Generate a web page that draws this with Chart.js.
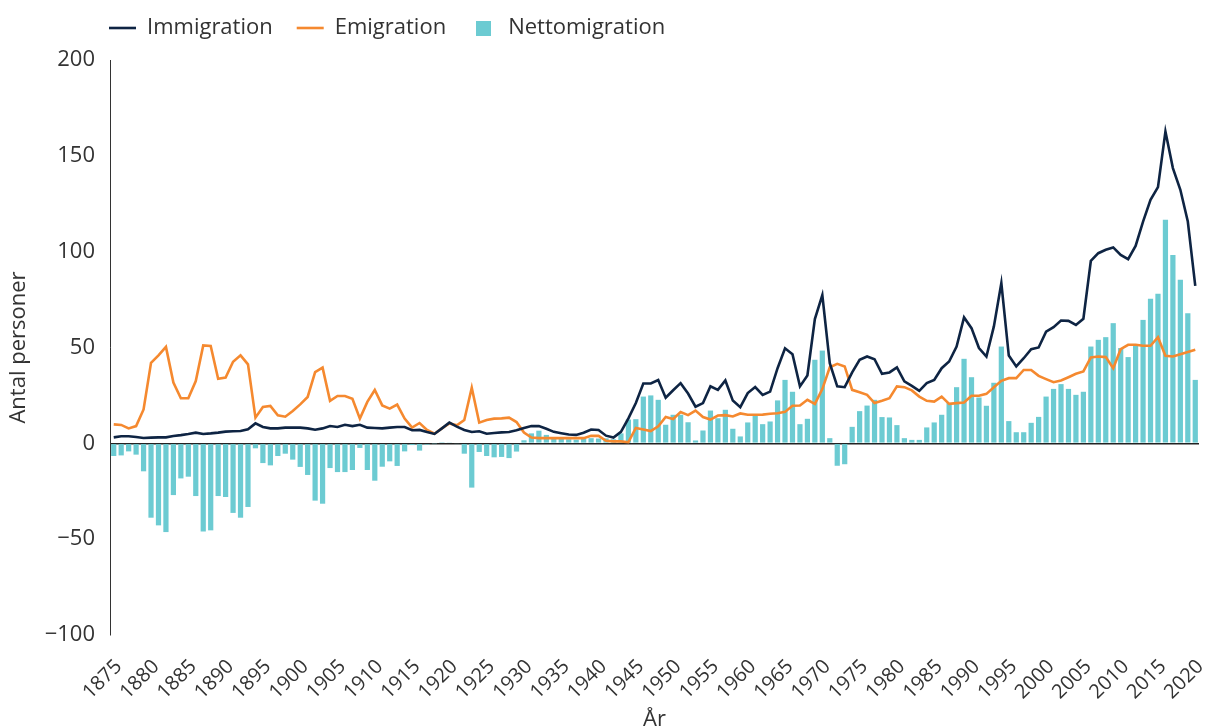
<!DOCTYPE html>
<html>
<head>
<meta charset="utf-8">
<script src="https://cdn.jsdelivr.net/npm/chart.js@4.4.1/dist/chart.umd.min.js"></script>
<style>
  body { margin: 0; background: #fff; }
</style>
</head>
<body>
<canvas id="migrationChart" width="1209" height="727"></canvas>
<script>
// values in thousands of persons, one per year from startYear
const startYear = 1875;

const immigration = [
  3.1, 3.7, 3.7, 3.3, 2.8, 3.0, 3.1, 3.1, 3.8, 4.3,
  4.9, 5.6, 4.9, 5.2, 5.6, 6.1, 6.3, 6.4, 7.3, 10.4,
  8.5, 7.8, 7.8, 8.2, 8.2, 8.2, 7.8, 7.1, 7.8, 9.0,
  8.5, 9.7, 9.0, 9.7, 8.2, 8.0, 7.8, 8.2, 8.5, 8.5,
  6.8, 7.0, 5.9, 4.9, 7.8, 10.8, 8.7, 7.0, 5.9, 6.3,
  5.0, 5.4, 5.7, 5.9, 6.8, 8.0, 9.0, 9.0, 7.6, 6.0,
  5.3, 4.6, 4.4, 5.5, 7.2, 7.0, 4.0, 3.0, 6.0, 13.0,
  21.0, 31.2, 31.2, 33.0, 23.8, 27.7, 31.4, 26.0, 19.1, 21.0,
  29.8, 27.9, 32.8, 22.3, 18.9, 26.2, 29.4, 25.3, 27.0, 39.2,
  49.6, 46.5, 29.7, 35.4, 64.8, 77.3, 41.8, 29.7, 29.3, 37.0,
  43.6, 45.3, 43.9, 36.3, 37.0, 39.6, 32.3, 30.0, 27.4, 31.4,
  33.1, 39.2, 42.7, 50.5, 65.7, 60.1, 49.7, 45.3, 61.0, 83.6,
  45.8, 40.1, 44.4, 49.1, 50.0, 58.3, 60.6, 64.1, 63.9, 61.8,
  65.0, 95.2, 99.2, 101.0, 102.2, 98.3, 96.1, 103.0, 115.7, 127.0,
  133.7, 162.7, 143.6, 132.3, 115.7, 82.2
];

const emigration = [
  9.9, 9.6, 7.8, 9.0, 17.7, 42.0, 45.9, 50.3, 31.7, 23.5,
  23.5, 32.5, 51.1, 50.8, 33.7, 34.3, 42.6, 45.9, 41.2, 13.4,
  19.0, 19.5, 14.6, 13.9, 16.9, 20.3, 24.2, 37.2, 39.5, 22.2,
  24.7, 24.7, 23.3, 12.9, 21.6, 27.8, 19.8, 18.1, 20.2, 12.9,
  8.2, 10.6, 7.0, 5.0, 7.8, 10.4, 9.4, 12.2, 29.0, 10.8,
  12.2, 12.9, 13.0, 13.4, 11.1, 5.6, 3.0, 2.7, 2.7, 2.7,
  2.7, 2.7, 2.7, 2.7, 3.9, 3.9, 1.3, 1.0, 1.0, 0.6,
  8.0, 7.2, 6.4, 8.9, 13.8, 12.7, 16.3, 14.7, 17.1, 13.7,
  12.4, 14.5, 14.7, 14.0, 15.6, 14.9, 14.9, 15.0, 15.4, 15.7,
  16.4, 19.6, 19.7, 22.7, 20.6, 28.3, 39.7, 41.5, 40.1, 27.9,
  26.7, 25.3, 21.0, 22.2, 23.6, 29.7, 29.3, 27.6, 24.4, 22.2,
  21.8, 24.4, 20.6, 21.0, 21.3, 24.8, 24.8, 25.8, 29.3, 32.6,
  34.0, 34.0, 38.3, 38.3, 35.2, 33.5, 31.9, 32.8, 34.5, 36.3,
  37.5, 44.8, 45.3, 45.0, 39.2, 49.1, 51.4, 51.4, 50.9, 50.9,
  55.4, 45.7, 45.3, 46.5, 47.6, 48.8
];

const netMigration = [
  -6.6, -6.3, -4.2, -5.9, -14.6, -38.8, -42.8, -46.3, -27.0, -18.3,
  -17.4, -27.5, -46.0, -45.4, -27.5, -28.0, -36.3, -38.8, -33.2, -2.6,
  -10.3, -11.5, -6.6, -5.4, -8.5, -12.3, -16.5, -29.9, -31.5, -12.9,
  -15.0, -15.0, -13.9, -2.4, -13.9, -19.5, -12.2, -9.4, -11.8, -4.2,
  -0.9, -3.8, -0.7, -0.2, 0.2, 0.3, -0.3, -5.4, -23.1, -4.5,
  -6.6, -7.3, -7.1, -7.7, -4.3, 1.6, 5.2, 6.6, 4.4, 2.8,
  2.4, 2.1, 1.9, 2.3, 2.7, 2.5, 2.6, 2.1, 5.2, 12.4,
  12.6, 24.4, 25.0, 22.7, 9.7, 14.9, 14.9, 11.0, 1.5, 6.7,
  17.1, 13.1, 17.5, 7.6, 3.6, 10.9, 14.9, 10.0, 11.4, 22.4,
  33.1, 26.9, 10.0, 12.8, 43.6, 48.4, 2.7, -11.7, -10.9, 8.6,
  16.8, 19.7, 22.7, 13.7, 13.5, 9.5, 2.7, 1.8, 1.8, 8.3,
  10.9, 14.9, 21.0, 29.3, 44.1, 34.5, 23.9, 19.6, 31.6, 50.5,
  11.6, 5.8, 5.8, 10.7, 13.8, 24.4, 28.4, 30.9, 28.4, 25.3,
  26.9, 50.5, 54.0, 55.4, 62.7, 49.7, 45.0, 50.9, 64.4, 75.4,
  78.0, 116.6, 98.3, 85.3, 67.9, 33.1
];

const yTickValues = [-100, -50, 0, 50, 100, 150, 200];
const seriesNames = ['Immigration', 'Emigration', 'Nettomigration'];

const years = immigration.map((v, i) => String(startYear + i));

const NAVY = '#0e2443';
const ORANGE = '#f5892f';
const TEAL = '#6ccbd2';
const TEXT = '#333333';
const FONT = "'Open Sans', sans-serif";

// small square for the bar series in the legend
const squareIcon = document.createElement('canvas');
squareIcon.width = 15;
squareIcon.height = 15;
const sq = squareIcon.getContext('2d');
sq.fillStyle = TEAL;
sq.fillRect(0, 0, 15, 15);

// legend sits left aligned over the plot, not at the canvas edge
const legendPlacement = {
  id: 'legendPlacement',
  afterLayout(chart) {
    chart.legend.left = 85;
    chart.legend.top = -7;
  }
};

const ctx = document.getElementById('migrationChart').getContext('2d');
const migrationChart = new Chart(ctx, {
  type: 'bar',
  data: {
    labels: years,
    datasets: [{
      type: 'line',
      label: seriesNames[0],
      data: immigration,
      borderColor: NAVY,
      backgroundColor: NAVY,
      borderWidth: 2.6,
      pointRadius: 0,
      pointStyle: 'line',
      tension: 0,
      order: 0
    }, {
      type: 'line',
      label: seriesNames[1],
      data: emigration,
      borderColor: ORANGE,
      backgroundColor: ORANGE,
      borderWidth: 2.6,
      pointRadius: 0,
      pointStyle: 'line',
      tension: 0,
      order: 1
    }, {
      type: 'bar',
      label: seriesNames[2],
      data: netMigration,
      backgroundColor: TEAL,
      borderWidth: 0,
      pointStyle: squareIcon,
      barPercentage: 0.7,
      categoryPercentage: 1.0,
      order: 2
    }]
  },
  options: {
    responsive: false,
    animation: false,
    layout: {
      padding: { top: 4, right: 10, left: 0, bottom: 0 }
    },
    plugins: {
      legend: {
        position: 'top',
        align: 'start',
        labels: {
          usePointStyle: true,
          pointStyleWidth: 27,
          padding: 24,
          color: TEXT,
          font: { family: FONT, size: 22 }
        }
      },
      tooltip: { enabled: false }
    },
    scales: {
      x: {
        grid: { display: false },
        border: { display: false },
        ticks: {
          autoSkip: false,
          maxRotation: 45,
          minRotation: 45,
          padding: 12,
          labelOffset: 5,
          color: TEXT,
          font: { family: FONT, size: 20 },
          callback: function(val) {
            const y = this.getLabelForValue(val);
            return Number(y) % 5 === 0 ? y : '';
          }
        },
        title: {
          display: true,
          text: 'År',
          color: TEXT,
          font: { family: FONT, size: 22 },
          padding: { top: 0, bottom: -6 }
        },
        afterFit: function(scale) {
          scale.height = 92;
          scale.paddingLeft = 0;
          scale.paddingRight = 0;
        }
      },
      y: {
        min: -100,
        max: 200,
        afterBuildTicks: function(scale) {
          scale.ticks = yTickValues.map(v => ({ value: v }));
        },
        grid: {
          drawTicks: false,
          lineWidth: 1.5,
          color: c => (c.tick && c.tick.value === 0) ? '#222222' : 'rgba(0,0,0,0)'
        },
        border: { display: true, color: '#333333', width: 1 },
        ticks: {
          padding: 15,
          color: TEXT,
          font: { family: FONT, size: 22 },
          callback: v => v < 0 ? '\u2212' + Math.abs(v) : String(v)
        },
        title: {
          display: true,
          text: 'Antal personer',
          color: TEXT,
          font: { family: FONT, size: 22 },
          padding: { top: 6, bottom: 0 }
        },
        afterFit: function(scale) { scale.width = 110; }
      }
    }
  },
  plugins: [legendPlacement]
});
</script>
</body>
</html>
